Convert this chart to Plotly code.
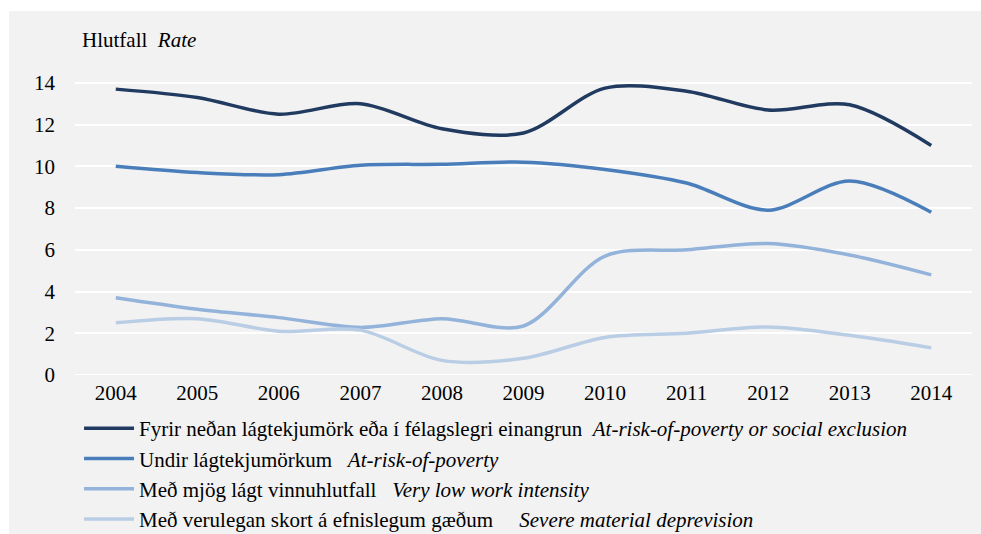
import plotly.graph_objects as go

years = [2004, 2005, 2006, 2007, 2008, 2009, 2010, 2011, 2012, 2013, 2014]
arope = [13.7, 13.3, 12.5, 13.0, 11.8, 11.6, 13.75, 13.6, 12.7, 12.95, 11.0]
arop = [10.0, 9.7, 9.6, 10.05, 10.1, 10.2, 9.85, 9.2, 7.9, 9.3, 7.8]
lwi = [3.7, 3.15, 2.75, 2.28, 2.7, 2.35, 5.7, 6.0, 6.3, 5.75, 4.8]
smd = [2.5, 2.7, 2.1, 2.15, 0.7, 0.8, 1.8, 2.0, 2.3, 1.9, 1.3]

names = [
    "Fyrir neðan lágtekjumörk eða í félagslegri einangrun\u00a0\u00a0<i>At-risk-of-poverty or social exclusion</i>",
    "Undir lágtekjumörkum\u00a0\u00a0\u00a0<i>At-risk-of-poverty</i>",
    "Með mjög lágt vinnuhlutfall\u00a0\u00a0\u00a0<i>Very low work intensity</i>",
    "Með verulegan skort á efnislegum gæðum\u00a0\u00a0\u00a0\u00a0\u00a0<i>Severe material deprevision</i>",
]
series = [arope, arop, lwi, smd]
colors = ["#203a60", "#4a7ebb", "#93b3da", "#b9cde5"]
y_ticks = [0, 2, 4, 6, 8, 10, 12, 14]

FONT = "'Liberation Serif', 'DejaVu Serif', serif"
FS = 21

fig = go.Figure()
for i, (nm, vals, col) in enumerate(zip(names, series, colors)):
    fig.add_trace(go.Scatter(
        x=years, y=vals, name=nm, mode="lines",
        line=dict(color=col, width=3.5, shape="spline", smoothing=0.9),
        legendgroup=f"g{i}",
    ))

fig.update_layout(
    width=981, height=534,
    margin=dict(l=75, r=9, t=62, b=159, autoexpand=False),
    paper_bgcolor="white",
    plot_bgcolor="#d9d9d9",
    font=dict(family=FONT, size=FS, color="#000000"),
    showlegend=True,
    legend=dict(
        orientation="v", x=0.0045, xanchor="left", y=-0.1054, yanchor="top",
        bgcolor="rgba(0,0,0,0)", font=dict(family=FONT, size=FS),
        tracegroupgap=0, itemwidth=50,
    ),
    xaxis=dict(
        range=[2003.5, 2014.5], tickvals=years, ticktext=[str(y) for y in years],
        showgrid=False, zeroline=False, showline=False, ticks="",
        ticklabelstandoff=3,
        tickfont=dict(family=FONT, size=FS),
    ),
    yaxis=dict(
        range=[0, 15], tickvals=y_ticks, ticktext=[str(v) for v in y_ticks],
        showgrid=True, gridcolor="white", gridwidth=2, zeroline=False,
        showline=False, ticks="", ticklabelstandoff=19,
        tickfont=dict(family=FONT, size=FS),
    ),
    shapes=[dict(
        type="rect", xref="paper", yref="paper",
        x0=(9 - 75) / 897, x1=(981 - 75) / 897 + 0.01,
        y0=(375 - 540) / 313, y1=(375 - 11) / 313,
        fillcolor="#f2f2f2", line=dict(width=0), layer="below",
    ), dict(
        type="line", xref="paper", yref="y", x0=0, x1=1, y0=0, y1=0,
        line=dict(color="white", width=2), layer="below",
    )],
    annotations=[dict(
        text="Hlutfall\u00a0\u00a0<i>Rate</i>", xref="paper", yref="paper",
        x=(80 - 75) / 897, y=(375 - 40) / 313, xanchor="left", yanchor="middle",
        showarrow=False, font=dict(family=FONT, size=FS),
    )],
)

fig.write_html(
    "out.html",
    config={"displayModeBar": False},
    post_script="document.body.style.margin='0';document.body.style.overflow='hidden';",
)
